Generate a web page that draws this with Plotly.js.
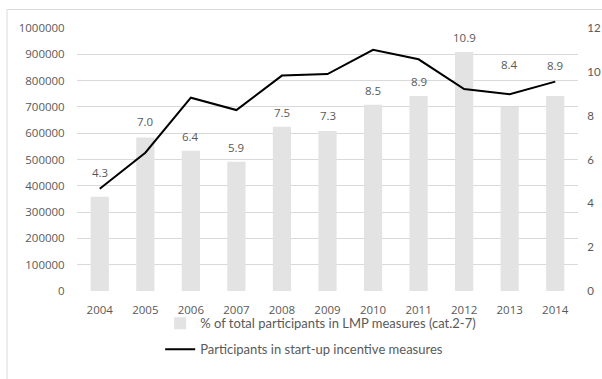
<!DOCTYPE html>
<html>
<head>
<meta charset="utf-8">
<script src="https://cdn.plot.ly/plotly-3.0.1.min.js"></script>
<style>html,body{margin:0;padding:0;background:#fff;}#chart{width:602px;height:379px;}</style>
</head>
<body>
<div id="chart"></div>
<script>
// ---- data ----
const years = [2004, 2005, 2006, 2007, 2008, 2009, 2010, 2011, 2012, 2013, 2014];
const sharePct = [4.3, 7.0, 6.4, 5.9, 7.5, 7.3, 8.5, 8.9, 10.9, 8.4, 8.9];
const startupParticipants = [389000, 526000, 735000, 688000, 819000, 825000, 917000, 881000, 768000, 748000, 796000];
const barName = '% of total participants in LMP measures (cat.2-7)';
const lineName = 'Participants in start-up incentive measures';
const leftTicks = [0,100000,200000,300000,400000,500000,600000,700000,800000,900000,1000000];
const rightTicks = [0,2,4,6,8,10,12];

// label offsets (px above bar top) - styling only
const labelLift = [24, 16, 14, 14, 14, 16, 14.5, 14, 14.5, 42, 30];

const tickFont = {family: 'Open Sans, sans-serif', size: 11.5, color: '#595959'};

const traces = [
  {
    type: 'bar', x: years, y: sharePct, name: barName,
    xaxis: 'x', yaxis: 'y',
    marker: {color: '#e3e3e3'},
    legendgroup: 'a'
  },
  {
    type: 'scatter', mode: 'lines', x: years, y: startupParticipants, name: lineName,
    xaxis: 'x', yaxis: 'y2',
    line: {color: '#000000', width: 2},
    legendgroup: 'b'
  }
];

const annotations = years.map((yr, i) => ({
  x: yr, y: sharePct[i], xref: 'x', yref: 'y',
  text: sharePct[i].toFixed(1), showarrow: false,
  yanchor: 'middle', yshift: labelLift[i],
  font: {family: 'Open Sans, sans-serif', size: 11.5, color: '#595959'}
}));

const layout = {
  width: 602, height: 379,
  margin: {l: 77, r: 24, t: 28, b: 88, pad: 0},
  paper_bgcolor: '#ffffff', plot_bgcolor: '#ffffff',
  font: tickFont,
  bargap: 0.6,
  showlegend: true,
  legend: {
    orientation: 'v', x: 0.166, xanchor: 'left', y: -0.066, yanchor: 'top',
    traceorder: 'grouped', tracegroupgap: 6,
    font: {family: 'Lato, sans-serif', size: 13, color: '#595959'},
    bgcolor: 'rgba(0,0,0,0)'
  },
  xaxis: {
    type: 'linear', range: [2003.5, 2014.5], tickvals: years, showgrid: false, zeroline: false, showline: false,
    ticks: 'outside', ticklen: 8, tickcolor: 'rgba(0,0,0,0)',
    tickfont: tickFont
  },
  yaxis: {
    side: 'right', range: [0, 12], tickvals: rightTicks, showgrid: false, zeroline: false,
    showline: false, ticks: 'outside', ticklen: 6, tickcolor: 'rgba(0,0,0,0)',
    tickfont: {family: 'Lato, sans-serif', size: 11.5, color: '#595959'}
  },
  yaxis2: {
    side: 'left', overlaying: 'y', range: [0, 1000000], tickvals: leftTicks,
    tickformat: 'd', showgrid: true, gridcolor: '#d9d9d9', gridwidth: 1, zeroline: false,
    showline: false, ticks: 'outside', ticklen: 9, tickcolor: 'rgba(0,0,0,0)',
    tickfont: tickFont
  },
  annotations: annotations,
  shapes: [{
    type: 'rect', xref: 'paper', yref: 'paper', layer: 'below',
    x0: -0.1397, x1: 1.08, y0: -0.45, y1: 1.0703,
    line: {color: '#d9d9d9', width: 1}, fillcolor: 'rgba(0,0,0,0)'
  }]
};

Plotly.newPlot('chart', traces, layout, {displayModeBar: false, staticPlot: true});
</script>
</body>
</html>
